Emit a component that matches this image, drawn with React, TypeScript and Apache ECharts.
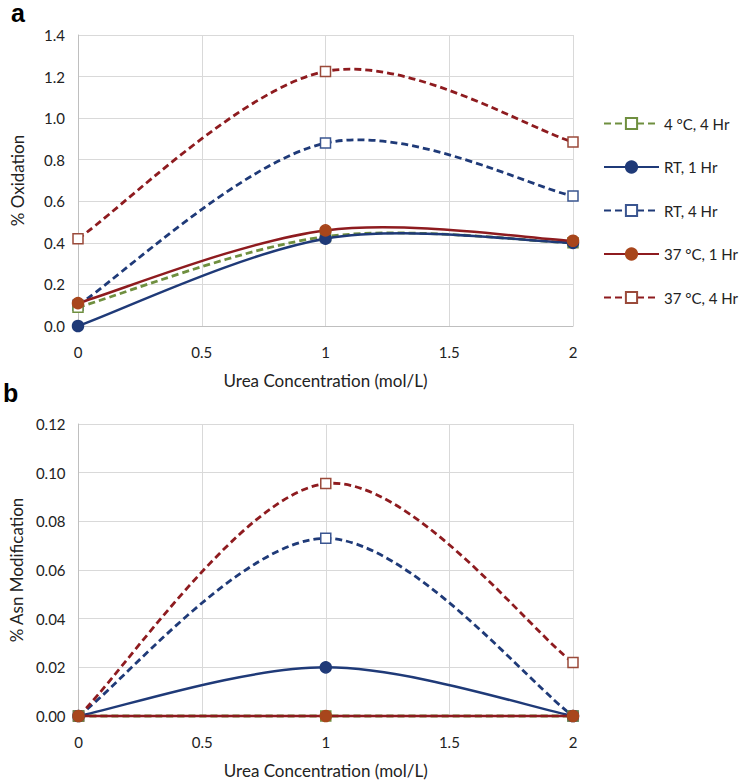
import React, { useEffect, useRef } from "react";
import * as echarts from "echarts";

const xValues = [0, 1, 2];
const seriesNames = ["4 °C, 4 Hr", "RT, 1 Hr", "RT, 4 Hr", "37 °C, 1 Hr", "37 °C, 4 Hr"];

// Panel a: % Oxidation
const oxi4C4h = [0.09, 0.43, 0.4];
const oxiRT1h = [0.0, 0.42, 0.4];
const oxiRT4h = [0.1, 0.88, 0.625];
const oxi37C1h = [0.11, 0.46, 0.41];
const oxi37C4h = [0.42, 1.225, 0.885];

// Panel b: % Asn Modification
const asn4C4h = [0, 0, 0];
const asnRT1h = [0, 0.02, 0];
const asnRT4h = [0, 0.073, 0];
const asn37C1h = [0, 0, 0];
const asn37C4h = [0, 0.0955, 0.022];

const GREEN = "#6f8f3f";
const NAVY = "#1f3a78";
const RED = "#8e1b1f";
const BROWN = "#a8461c";

const FONT = "Lato";

type Style = { color: string; dashed: boolean; symbol: string; fill: string; border: string; z: number };
const styles: Style[] = [
  { color: GREEN, dashed: true, symbol: "rect", fill: "#ffffff", border: GREEN, z: 3 },
  { color: NAVY, dashed: false, symbol: "circle", fill: NAVY, border: NAVY, z: 4 },
  { color: NAVY, dashed: true, symbol: "rect", fill: "#ffffff", border: "#3a5590", z: 1 },
  { color: RED, dashed: false, symbol: "circle", fill: BROWN, border: BROWN, z: 5 },
  { color: RED, dashed: true, symbol: "rect", fill: "#ffffff", border: "#9a4a3a", z: 2 },
];

// Excel-style smoothed curve (Catmull-Rom-like cubic Bezier, factor 1/6)
function excelCurvePath(pts: number[][]): string {
  const n = pts.length;
  let d = `M${pts[0][0]},${pts[0][1]}`;
  for (let i = 0; i < n - 1; i++) {
    const p0 = pts[Math.max(0, i - 1)];
    const p1 = pts[i];
    const p2 = pts[i + 1];
    const p3 = pts[Math.min(n - 1, i + 2)];
    const c1x = p1[0] + (p2[0] - p0[0]) / 6;
    const c1y = p1[1] + (p2[1] - p0[1]) / 6;
    const c2x = p2[0] - (p3[0] - p1[0]) / 6;
    const c2y = p2[1] - (p3[1] - p1[1]) / 6;
    d += ` C${c1x},${c1y} ${c2x},${c2y} ${p2[0]},${p2[1]}`;
  }
  return d;
}

function makeSeries(values: number[][], idx: number) {
  const out: any[] = [];
  values.forEach((vals, i) => {
    const s = styles[i];
    const data = xValues.map((x, k) => [x, vals[k]]);
    const lw = s.dashed ? 2.8 : 2.5;
    const dash = [7, 4];
    out.push({
      name: seriesNames[i],
      type: "line",
      xAxisIndex: idx,
      yAxisIndex: idx,
      data,
      symbol: s.symbol,
      symbolSize: s.symbol === "rect" ? 10 : 11,
      showAllSymbol: true,
      lineStyle: { color: s.color, width: lw, type: s.dashed ? dash : "solid", opacity: 0 },
      itemStyle: { color: s.fill, borderColor: s.border, borderWidth: 1.5 },
      emphasis: { disabled: true },
      z: 10 + s.z,
    });
    out.push({
      name: seriesNames[i] + "__curve" + idx,
      type: "custom",
      xAxisIndex: idx,
      yAxisIndex: idx,
      data,
      silent: true,
      z: 2 + s.z,
      renderItem: (params: any, api: any) => {
        if (params.dataIndex !== 0) return null;
        const pts = data.map((p) => api.coord(p));
        return {
          type: "path",
          shape: { pathData: excelCurvePath(pts) },
          style: {
            fill: "none",
            stroke: s.color,
            lineWidth: lw,
            lineDash: s.dashed ? dash : null,
          },
        };
      },
    });
  });
  return out;
}

function axisCommon() {
  return {
    axisLine: { show: true, lineStyle: { color: "#bfbfbf", width: 1 } },
    axisTick: { show: false },
    splitLine: { show: true, lineStyle: { color: "#d9d9d9", width: 1 } },
    axisLabel: { color: "#222", fontSize: 15, fontFamily: FONT },
    nameTextStyle: { color: "#222", fontSize: 17, fontFamily: FONT },
  };
}

export default function App() {
  const ref = useRef<HTMLDivElement>(null);
  useEffect(() => {
    if (!ref.current) return;
    const chart = echarts.init(ref.current, undefined, { renderer: "svg" });
    const option = {
      animation: false,
      backgroundColor: "#ffffff",
      textStyle: { fontFamily: FONT },
      graphic: [
        { type: "text", left: 11, top: 0, style: { text: "a", fontSize: 25, fontWeight: "bold", fontFamily: "Liberation Sans", fill: "#000" } },
        { type: "text", left: 3, top: 380, style: { text: "b", fontSize: 25, fontWeight: "bold", fontFamily: "Liberation Sans", fill: "#000" } },
      ],
      legend: {
        orient: "vertical",
        left: 598,
        top: 111,
        itemWidth: 55,
        itemHeight: 14,
        itemGap: 28.5,
        data: seriesNames,
        lineStyle: { opacity: 1 },
        textStyle: { fontSize: 15, fontFamily: FONT, color: "#222" },
        selectedMode: false,
      },
      grid: [
        { left: 78, width: 495, top: 35, height: 291 },
        { left: 78, width: 495, top: 424, height: 292 },
      ],
      xAxis: [0, 1].map((i) => ({
        ...axisCommon(),
        type: "value",
        gridIndex: i,
        min: 0,
        max: 2,
        interval: 0.5,
        name: "Urea Concentration (mol/L)",
        nameLocation: "middle",
        nameGap: 46,
        axisLabel: { ...axisCommon().axisLabel, margin: 18, formatter: (v: number) => String(v) },
      })),
      yAxis: [
        {
          ...axisCommon(),
          type: "value",
          gridIndex: 0,
          min: 0,
          max: 1.4,
          interval: 0.2,
          name: "% Oxidation",
          nameLocation: "middle",
          nameGap: 52,
          axisLabel: { ...axisCommon().axisLabel, margin: 13, formatter: (v: number) => v.toFixed(1) },
        },
        {
          ...axisCommon(),
          type: "value",
          gridIndex: 1,
          min: 0,
          max: 0.12,
          interval: 0.02,
          name: "% Asn Modification",
          nameLocation: "middle",
          nameGap: 52,
          axisLabel: { ...axisCommon().axisLabel, margin: 13, formatter: (v: number) => v.toFixed(2) },
        },
      ],
      series: [
        ...makeSeries([oxi4C4h, oxiRT1h, oxiRT4h, oxi37C1h, oxi37C4h], 0),
        ...makeSeries([asn4C4h, asnRT1h, asnRT4h, asn37C1h, asn37C4h], 1),
      ],
    };
    chart.setOption(option as any);
    return () => chart.dispose();
  }, []);
  return <div ref={ref} style={{ position: "absolute", left: 0, top: 0, width: 742, height: 781 }} />;
}
